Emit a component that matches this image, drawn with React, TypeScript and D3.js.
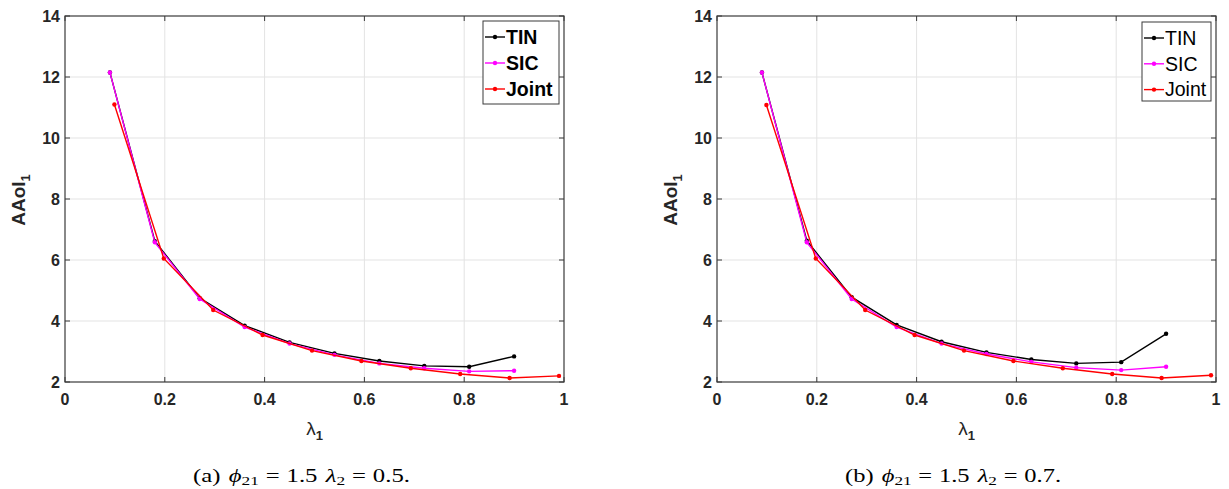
import React, { useLayoutEffect, useRef, useState } from "react";
import * as d3 from "d3";

const xTS = [0.09, 0.18, 0.27, 0.36, 0.45, 0.54, 0.63, 0.72, 0.81, 0.9];
const xJoint = [0.099, 0.198, 0.297, 0.396, 0.495, 0.594, 0.693, 0.792, 0.891, 0.99];

const tinA = [12.15, 6.62, 4.75, 3.85, 3.3, 2.94, 2.69, 2.53, 2.5, 2.84];
const sicA = [12.15, 6.58, 4.72, 3.8, 3.26, 2.89, 2.61, 2.45, 2.35, 2.37];
const jointA = [11.1, 6.05, 4.36, 3.54, 3.03, 2.69, 2.45, 2.26, 2.13, 2.2];

const tinB = [12.15, 6.63, 4.78, 3.87, 3.32, 2.97, 2.74, 2.61, 2.65, 3.58];
const sicB = [12.15, 6.58, 4.72, 3.8, 3.26, 2.92, 2.66, 2.47, 2.39, 2.5];
const jointB = [11.08, 6.05, 4.36, 3.54, 3.03, 2.69, 2.45, 2.26, 2.13, 2.22];

const xTicks = [0, 0.2, 0.4, 0.6, 0.8, 1];
const xTickLabels = ["0", "0.2", "0.4", "0.6", "0.8", "1"];
const yTicks = [2, 4, 6, 8, 10, 12, 14];
const yTickLabels = ["2", "4", "6", "8", "10", "12", "14"];

const seriesNames = ["TIN", "SIC", "Joint"];
const seriesColors = ["#000000", "#ff00ff", "#ff0000"];

const SANS = "'Liberation Sans', Arial, Helvetica, sans-serif";
const SERIF = "'Liberation Serif', 'Times New Roman', serif";
const AXIS = "#3a3a3a";

type Panel = {
  left: number;
  tin: number[];
  sic: number[];
  joint: number[];
  legendBold: boolean;
  legend: { x: number; y: number; w: number; h: number };
  caption: { x: number; len: number; letter: string; l2: string };
};

const panels: Panel[] = [
  {
    left: 65,
    tin: tinA,
    sic: sicA,
    joint: jointA,
    legendBold: true,
    legend: { x: 483, y: 21, w: 76, h: 83 },
    caption: { x: 193, len: 217, letter: "(a)", l2: "0.5." },
  },
  {
    left: 717,
    tin: tinB,
    sic: sicB,
    joint: jointB,
    legendBold: false,
    legend: { x: 1142, y: 22, w: 69, h: 79 },
    caption: { x: 845, len: 216, letter: "(b)", l2: "0.7." },
  },
];

const TOP = 16;
const BOTTOM = 382;
const W = 499;

function Caption({ c }: { c: Panel["caption"] }) {
  const ref = useRef<SVGTextElement>(null);
  const [sx, setSx] = useState(1.25);
  useLayoutEffect(() => {
    if (ref.current) {
      const w = ref.current.getBBox().width;
      if (w > 0) setSx(c.len / w);
    }
  }, [c.len]);
  return (
    <g transform={`translate(${c.x},482) scale(${sx},1)`}>
      <text ref={ref} x={0} y={0} fontFamily={SERIF} fontSize={18} fill="#000">
        <tspan>{c.letter}</tspan>
        <tspan dx={6} fontStyle="italic">ϕ</tspan>
        <tspan fontSize={12.6} dy={2.7}>21</tspan>
        <tspan dx={5} dy={-2.7}>=</tspan>
        <tspan dx={5}>1.5</tspan>
        <tspan dx={6} fontStyle="italic">λ</tspan>
        <tspan fontSize={12.6} dy={2.7}>2</tspan>
        <tspan dx={5} dy={-2.7}>=</tspan>
        <tspan dx={5}>{c.l2}</tspan>
      </text>
    </g>
  );
}

function PanelView({ p }: { p: Panel }) {
  const x = d3.scaleLinear().domain([0, 1]).range([p.left, p.left + W]);
  const y = d3.scaleLinear().domain([2, 14]).range([BOTTOM, TOP]);
  const line = d3
    .line<[number, number]>()
    .x((d) => x(d[0]))
    .y((d) => y(d[1]));
  const series = [
    xTS.map((v, i) => [v, p.tin[i]] as [number, number]),
    xTS.map((v, i) => [v, p.sic[i]] as [number, number]),
    xJoint.map((v, i) => [v, p.joint[i]] as [number, number]),
  ];
  const tl = 5;
  const cx = p.left + W / 2;
  const lg = p.legend;
  const rowH = p.legendBold ? 26 : 25.8;
  const lineX0 = lg.x + 2;
  const lineX1 = lg.x + 22;
  return (
    <g>
      <rect x={p.left} y={TOP} width={W} height={BOTTOM - TOP} fill="#fff" />
      {xTicks.slice(1, -1).map((t) => (
        <line key={"gx" + t} x1={x(t)} x2={x(t)} y1={TOP} y2={BOTTOM} stroke="#e3e3e3" strokeWidth={1} />
      ))}
      {yTicks.slice(1, -1).map((t) => (
        <line key={"gy" + t} x1={p.left} x2={p.left + W} y1={y(t)} y2={y(t)} stroke="#e3e3e3" strokeWidth={1} />
      ))}
      {series.map((s, i) => (
        <g key={"s" + i}>
          <path d={line(s) || ""} fill="none" stroke={seriesColors[i]} strokeWidth={1.4} />
          {s.map((d, j) => (
            <circle key={j} cx={x(d[0])} cy={y(d[1])} r={2.2} fill={seriesColors[i]} />
          ))}
        </g>
      ))}
      <rect x={p.left} y={TOP} width={W} height={BOTTOM - TOP} fill="none" stroke={AXIS} strokeWidth={1.2} />
      {xTicks.map((t, i) => (
        <g key={"xt" + t}>
          <line x1={x(t)} x2={x(t)} y1={BOTTOM} y2={BOTTOM - tl} stroke={AXIS} />
          <line x1={x(t)} x2={x(t)} y1={TOP} y2={TOP + tl} stroke={AXIS} />
          <text x={x(t)} y={405} textAnchor="middle" fontFamily={SANS} fontWeight="bold" fontSize={16} fill="#262626">
            {xTickLabels[i]}
          </text>
        </g>
      ))}
      {yTicks.map((t, i) => (
        <g key={"yt" + t}>
          <line x1={p.left} x2={p.left + tl} y1={y(t)} y2={y(t)} stroke={AXIS} />
          <line x1={p.left + W} x2={p.left + W - tl} y1={y(t)} y2={y(t)} stroke={AXIS} />
          <text x={p.left - 5} y={y(t) + 5.8} textAnchor="end" fontFamily={SANS} fontWeight="bold" fontSize={16} fill="#262626">
            {yTickLabels[i]}
          </text>
        </g>
      ))}
      <text
        transform={`translate(${p.left - 40},200) rotate(-90)`}
        textAnchor="middle"
        fontFamily={SANS}
        fontWeight="bold"
        fontSize={19}
        fill="#262626"
      >
        AAoI
        <tspan fontSize={13} dy={5}>1</tspan>
      </text>
      <text x={cx} y={435} textAnchor="middle" fontFamily={SANS} fontSize={19} fill="#262626">
        λ
        <tspan fontSize={13} fontWeight="bold" dy={5}>1</tspan>
      </text>
      <rect x={lg.x} y={lg.y} width={lg.w} height={lg.h} fill="#fff" stroke={AXIS} strokeWidth={1} />
      {seriesNames.map((n, i) => {
        const ly = lg.y + 16 + i * rowH;
        return (
          <g key={"lg" + n}>
            <line x1={lineX0} x2={lineX1} y1={ly} y2={ly} stroke={seriesColors[i]} strokeWidth={1.4} />
            <circle cx={(lineX0 + lineX1) / 2} cy={ly} r={2.2} fill={seriesColors[i]} />
            <text
              x={lineX1 + 1}
              y={ly + 6.8}
              fontFamily={SANS}
              fontWeight={p.legendBold ? "bold" : "normal"}
              fontSize={19.5}
              fill="#000"
            >
              {n}
            </text>
          </g>
        );
      })}
      <Caption c={p.caption} />
    </g>
  );
}

export default function App() {
  return (
    <svg
      width={1229}
      height={489}
      style={{ position: "absolute", left: 0, top: 0, background: "#fff" }}
    >
      <rect x={0} y={0} width={1229} height={489} fill="#fff" />
      {panels.map((p, i) => (
        <PanelView key={i} p={p} />
      ))}
    </svg>
  );
}
